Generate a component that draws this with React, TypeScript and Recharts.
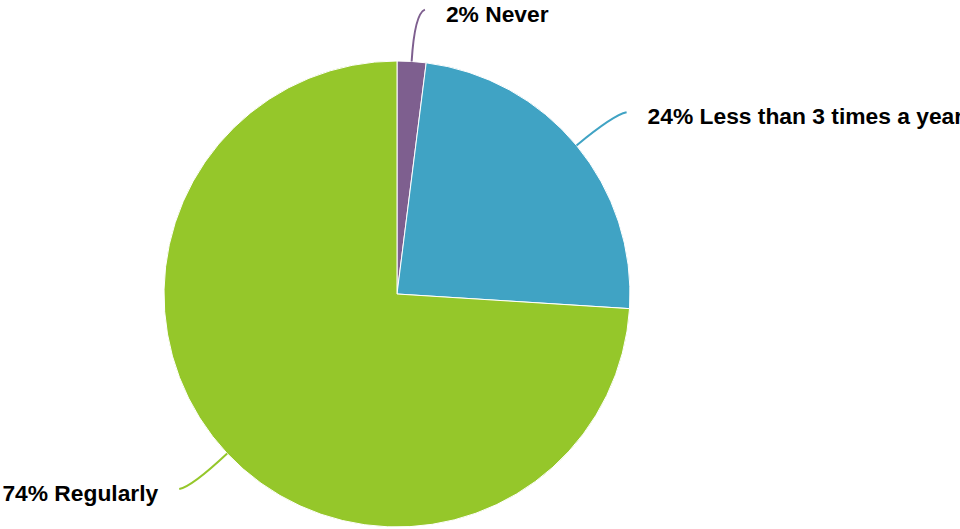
import { PieChart, Pie, Cell } from 'recharts';

const names = ['Never', 'Less than 3 times a year', 'Regularly'];
const values = [2, 24, 74];
const colors = ['#7e5f8f', '#40a3c4', '#95c72a'];

const data = names.map((name, i) => ({ name, value: values[i], color: colors[i] }));

const RAD = Math.PI / 180;

const renderLabel = (props: any) => {
  const { cx, cy, midAngle, outerRadius, index, value, name } = props;
  const cos = Math.cos(-midAngle * RAD);
  const sin = Math.sin(-midAngle * RAD);
  const side = cos >= 0 ? 1 : -1;
  const sx = cx + outerRadius * cos;
  const sy = cy + outerRadius * sin;
  const mx = cx + (outerRadius + 48) * cos;
  const my = cy + (outerRadius + 48) * sin;
  const ex = cx + (outerRadius + 52) * cos + side * 10;
  const ey = cy + (outerRadius + 52) * sin;
  return (
    <g key={`lbl-${index}`}>
      <path d={`M${sx},${sy} Q${mx},${my} ${ex},${ey}`} stroke={colors[index]} strokeWidth={2} fill="none" />
      <text
        x={ex + side * 21}
        y={ey + 4}
        textAnchor={side > 0 ? 'start' : 'end'}
        dominantBaseline="central"
        fill="#000"
        fontFamily="'Liberation Sans', Arial, sans-serif"
        fontWeight="bold"
        fontSize={22.8}
      >
        {`${value}% ${name}`}
      </text>
    </g>
  );
};

export default function App() {
  return (
    <div style={{ position: 'absolute', left: 0, top: 0, width: 960, height: 529, background: '#fff', overflow: 'hidden' }}>
      <PieChart width={960} height={529} margin={{ top: 0, right: 0, bottom: 0, left: 0 }}>
        <Pie
          data={data}
          dataKey="value"
          nameKey="name"
          cx={397}
          cy={294}
          outerRadius={233}
          startAngle={90}
          endAngle={-270}
          stroke="#ffffff"
          strokeWidth={1}
          labelLine={false}
          label={renderLabel}
          isAnimationActive={false}
        >
          {data.map((entry, index) => (
            <Cell key={`cell-${index}`} fill={entry.color} />
          ))}
        </Pie>
      </PieChart>
    </div>
  );
}
